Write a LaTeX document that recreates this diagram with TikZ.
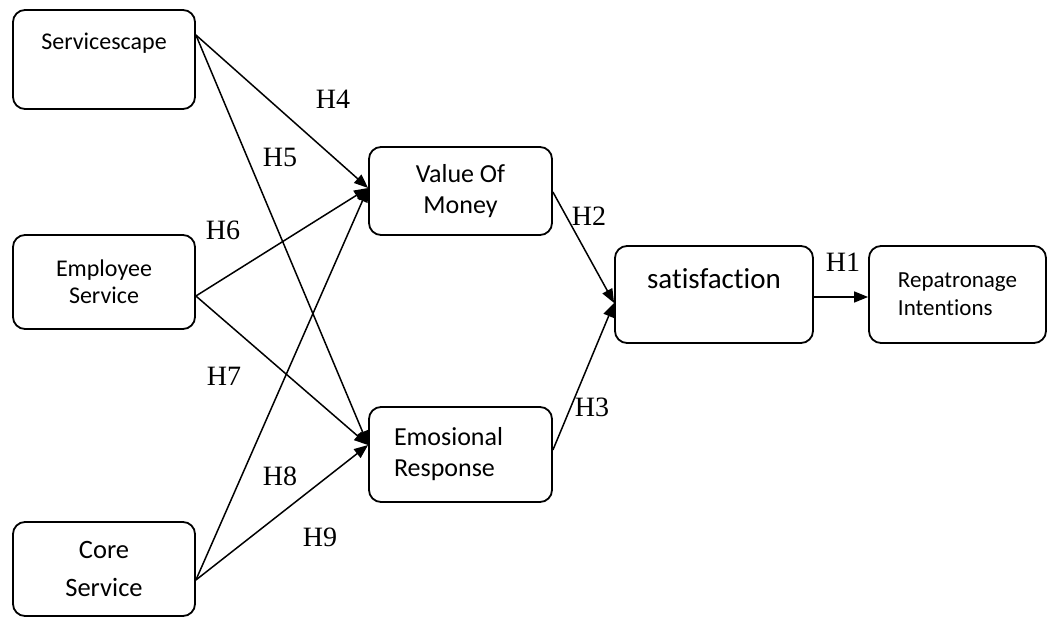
\documentclass[tikz,border=0pt]{standalone}
\usepackage{fontspec}
\setmainfont{Liberation Serif}
\newfontfamily\boxfont{Carlito}[Ligatures=CommonOff]
\usetikzlibrary{arrows.meta, positioning}

\begin{document}
\begin{tikzpicture}[x=1pt, y=-1pt,
  construct/.style={rectangle, rounded corners=12pt, draw=black, line width=1.8pt,
                    align=center, font=\boxfont\fontsize{26}{31}\selectfont},
  hpath/.style={-{Triangle[length=14pt, width=11pt]}, line width=1.5pt, black},
  hyp/.style={font=\fontsize{28}{30}\selectfont, inner sep=0pt}
]
\useasboundingbox (0,0) rectangle (1047,617);

% Exogenous constructs
\node[construct, minimum width=182, minimum height=99, text depth=37pt, font=\boxfont\fontsize{24}{28}\selectfont] (scape) at (104,59.5) {Servicescape};
\node[construct, minimum width=182, minimum height=94, font=\boxfont\fontsize{24}{27}\selectfont] (employee) at (104,282) {Employee\\Service};
\node[construct, minimum width=182, minimum height=94, font=\boxfont\fontsize{26.5}{38}\selectfont] (core) at (104,569) {Core\\Service};

% Mediating constructs
\node[construct, minimum width=183, minimum height=88] (value) at (460.5,191) {Value Of\\Money};
\node[construct, minimum width=183, minimum height=95, text width=133pt, align=left] (emo) at (460.5,454.5) {Emosional\\Response};

% Outcome constructs
\node[construct, minimum width=198, minimum height=97, text depth=31pt, font=\boxfont\fontsize{29}{32}\selectfont] (sat) at (714,294.5) {satisfaction};
\node[construct, minimum width=177, minimum height=97, align=left, font=\boxfont\fontsize{23}{28}\selectfont] (repat) at (957.5,294.5) {Repatronage\\Intentions};

% Hypothesised paths
\draw[hpath] ([yshift=24.5pt]scape.east) -- ([yshift=3pt]value.west);
\draw[hpath] ([yshift=24.5pt]scape.east) -- ([yshift=9.5pt]emo.west);
\draw[hpath] ([yshift=-14pt]employee.east) -- ([yshift=3pt]value.west);
\draw[hpath] ([yshift=-14pt]employee.east) -- ([yshift=9.5pt]emo.west);
\draw[hpath] ([yshift=-11pt]core.east) -- ([yshift=3pt]value.west);
\draw[hpath] ([yshift=-11pt]core.east) -- ([yshift=9.5pt]emo.west);
\draw[hpath] ([yshift=-1pt]value.east) -- ([yshift=-8.5pt]sat.west);
\draw[hpath] ([yshift=4.5pt]emo.east) -- ([yshift=-8.5pt]sat.west);
\draw[hpath] ([yshift=-2.5pt]sat.east) -- ([yshift=-2.5pt]repat.west);

% Hypothesis labels
\node[hyp] (h1) at (843,262) {H1};
\node[hyp] (h2) at (589,216) {H2};
\node[hyp] (h3) at (592,407) {H3};
\node[hyp] (h4) at (333,99) {H4};
\node[hyp] (h5) at (280,157) {H5};
\node[hyp] (h6) at (223,230) {H6};
\node[hyp] (h7) at (224,376) {H7};
\node[hyp] (h8) at (280,476) {H8};
\node[hyp] (h9) at (320,537) {H9};

\end{tikzpicture}
\end{document}
